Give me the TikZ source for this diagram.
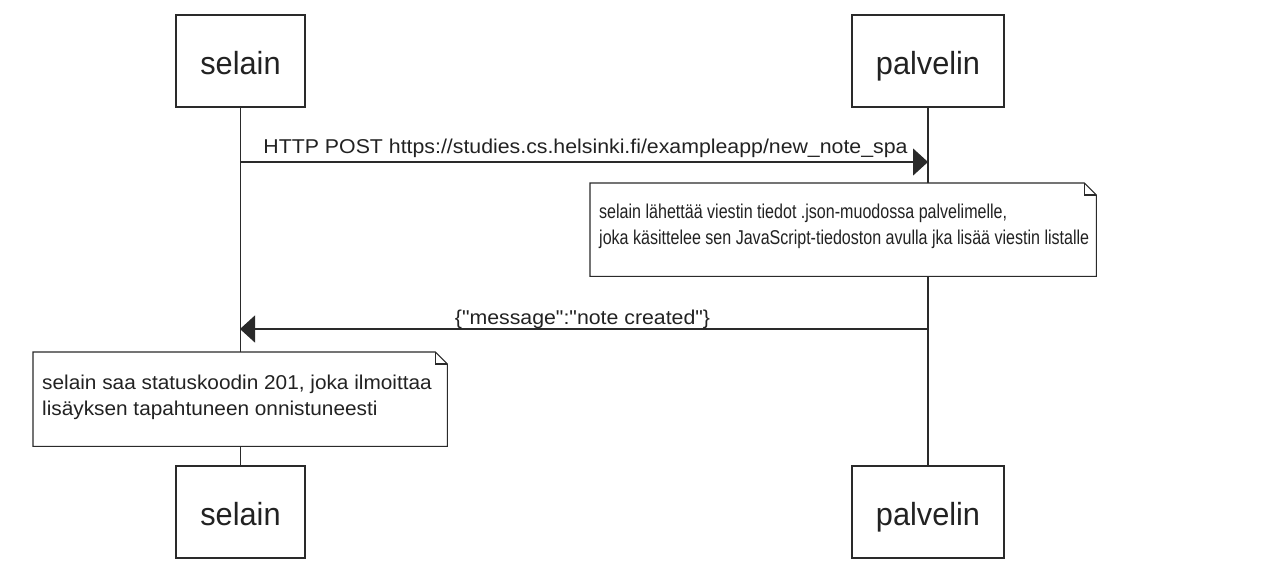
\documentclass[tikz,border=0pt]{standalone}
\usepackage{fontspec}
\setmainfont{Liberation Sans}
\newfontfamily\actorfont[FakeStretch=0.96]{Liberation Sans}
\newfontfamily\labelfont[FakeStretch=1.065]{Liberation Sans}
\newfontfamily\noteAfont[FakeStretch=0.803]{Liberation Sans}
\newfontfamily\noteBfont[FakeStretch=1.04]{Liberation Sans}
\usetikzlibrary{arrows.meta}
\definecolor{ink}{HTML}{222222}
\definecolor{edge}{HTML}{2A2A2A}
\tikzset{
  actorbox/.style={draw=edge, line width=1.5pt, fill=white, minimum width=129pt, minimum height=92pt, inner sep=0pt},
  actorwide/.style={actorbox, minimum width=152pt},
  actortext/.style={anchor=base, inner sep=0pt, text=ink, font=\actorfont\fontsize{32}{38}\selectfont},
  life/.style={draw=edge, line width=1.3pt},
  msg/.style={draw=edge, line width=1.3pt, -{Triangle[length=15pt,width=27pt]}},
  msglabel/.style={anchor=base, inner sep=0pt, text=ink, font=\labelfont\fontsize{20}{24}\selectfont},
  notebg/.style={fill=white, draw=none, inner sep=0pt, anchor=north west},
  notetextA/.style={anchor=base west, inner sep=0pt, text=ink, font=\noteAfont\fontsize{20}{26}\selectfont},
  notetextB/.style={anchor=base west, inner sep=0pt, text=ink, font=\noteBfont\fontsize{20}{26}\selectfont},
  noteline/.style={draw=edge, line width=1.1pt}
}
\begin{document}
\begin{tikzpicture}[x=1pt,y=-1pt]
\useasboundingbox (0,0) rectangle (1274,574);
% actor boxes
\node[actorbox] (selT) at (240.5,61) {};
\node[actorwide] (palT) at (928,61) {};
\node[actorbox] (selB) at (240.5,512) {};
\node[actorwide] (palB) at (928,512) {};
\node[actortext] (selTt) at (240.5,74) {selain};
\node[actortext] (palTt) at (928,74) {palvelin};
\node[actortext] (selBt) at (240.5,525) {selain};
\node[actortext] (palBt) at (928,525) {palvelin};
% lifelines
\draw[life] (selT.south) -- (selB.north);
\draw[life] (palT.south) -- (palB.north);
% message 1
\coordinate (m1s) at (240,162);
\coordinate (m1e) at (928,162);
\draw[msg] (m1s) -- (m1e);
\node[msglabel] (l1) at (585.5,153) {HTTP POST https://studies.cs.helsinki.fi/exampleapp/new\_note\_spa};
% note 1
\node[notebg, minimum width=506pt, minimum height=93pt] (n1) at (590,183) {};
\draw[noteline] (n1.north west) -- ([xshift=-12pt]n1.north east) -- ([yshift=-12pt]n1.north east) -- (n1.south east) -- (n1.south west) -- cycle;
\draw[noteline] ([xshift=-12pt]n1.north east) -- ([xshift=-12pt,yshift=-12pt]n1.north east) -- ([yshift=-12pt]n1.north east);
\node[notetextA] (n1a) at (599,218) {selain lähettää viestin tiedot .json-muodossa palvelimelle,};
\node[notetextA] (n1b) at (599,244) {joka käsittelee sen JavaScript-tiedoston avulla jka lisää viestin listalle};
% message 2
\coordinate (m2s) at (928,329);
\coordinate (m2e) at (240,329);
\draw[msg] (m2s) -- (m2e);
\node[msglabel] (l2) at (582.5,324) {\{"message":"note created"\}};
% note 2
\node[notebg, minimum width=414pt, minimum height=94pt] (n2) at (33,352) {};
\draw[noteline] (n2.north west) -- ([xshift=-12pt]n2.north east) -- ([yshift=-12pt]n2.north east) -- (n2.south east) -- (n2.south west) -- cycle;
\draw[noteline] ([xshift=-12pt]n2.north east) -- ([xshift=-12pt,yshift=-12pt]n2.north east) -- ([yshift=-12pt]n2.north east);
\node[notetextB] (n2a) at (42,389) {selain saa statuskoodin 201, joka ilmoittaa};
\node[notetextB] (n2b) at (42,415) {lisäyksen tapahtuneen onnistuneesti};
\end{tikzpicture}
\end{document}
